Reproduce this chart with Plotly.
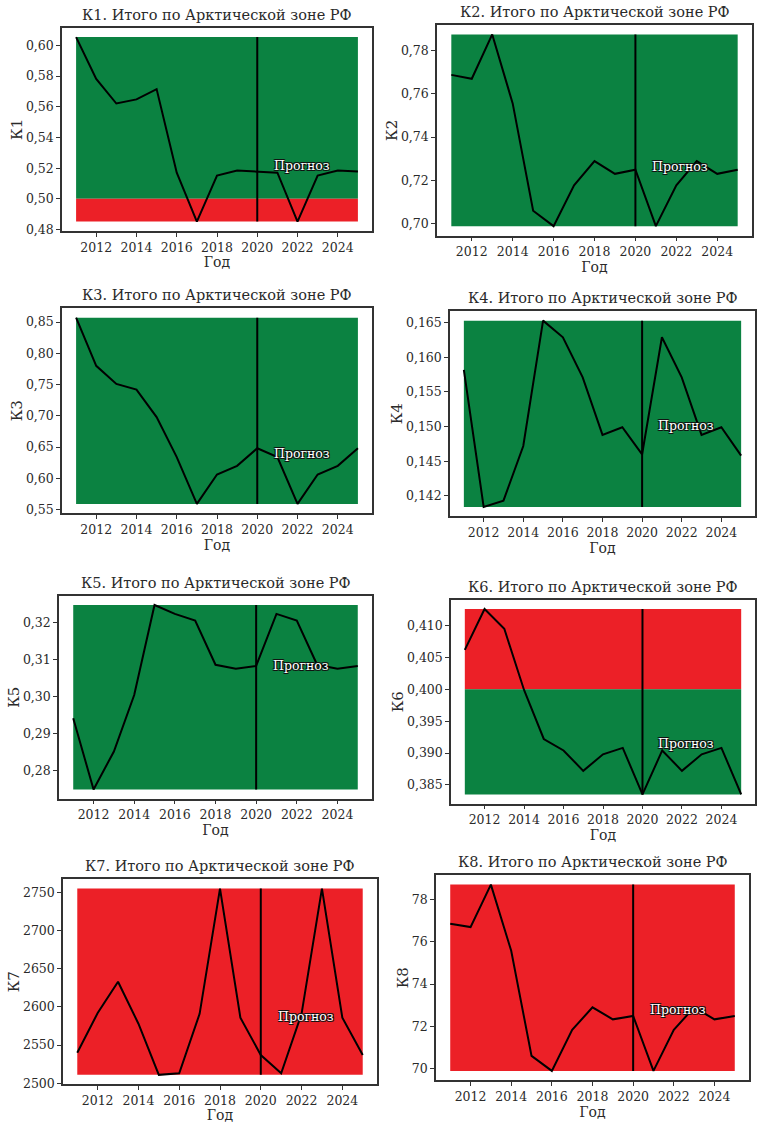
import plotly.graph_objects as go

years = list(range(2011, 2026))
forecast_start = 2020

k1 = [0.6054, 0.5781, 0.5621, 0.5648, 0.5715, 0.5170, 0.4852, 0.5152, 0.5185, 0.5178,
      0.5170, 0.4852, 0.5152, 0.5185, 0.5178]
k2 = [0.7688, 0.7670, 0.7875, 0.7556, 0.7059, 0.6988, 0.7177, 0.7289, 0.7230, 0.7249,
      0.6988, 0.7177, 0.7289, 0.7230, 0.7249]
k3 = [0.857, 0.780, 0.751, 0.742, 0.698, 0.634, 0.559, 0.606, 0.620, 0.648,
      0.634, 0.559, 0.606, 0.620, 0.648]
k4 = [0.1582, 0.1384, 0.1393, 0.1472, 0.1653, 0.1629, 0.1571, 0.1488, 0.1499, 0.1460,
      0.1629, 0.1571, 0.1488, 0.1499, 0.1458]
k5 = [0.2941, 0.2748, 0.2851, 0.3004, 0.3248, 0.3224, 0.3206, 0.3086, 0.3075, 0.3083,
      0.3224, 0.3206, 0.3086, 0.3075, 0.3083]
k6 = [0.4062, 0.4126, 0.4095, 0.3999, 0.3922, 0.3904, 0.3872, 0.3898, 0.3908, 0.3835,
      0.3904, 0.3872, 0.3898, 0.3908, 0.3835]
k7 = [2540, 2592, 2633, 2578, 2511, 2513, 2591, 2755, 2586, 2537,
      2513, 2591, 2755, 2586, 2537]
k8 = [76.86, 76.70, 78.71, 75.58, 70.60, 69.89, 71.83, 72.90, 72.33, 72.49,
      69.89, 71.83, 72.90, 72.33, 72.49]

names = ["К1", "К2", "К3", "К4", "К5", "К6", "К7", "К8"]
series = [k1, k2, k3, k4, k5, k6, k7, k8]
title_suffix = ". Итого по Арктической зоне РФ"

# zone thresholds: (threshold, colour above, colour below)
GREEN = "#0b8241"
RED = "#ec2027"
zones = [
    (0.50, GREEN, RED),
    (None, GREEN, GREEN),
    (None, GREEN, GREEN),
    (None, GREEN, GREEN),
    (None, GREEN, GREEN),
    (0.40, RED, GREEN),
    (None, RED, RED),
    (None, RED, RED),
]

ytick_vals = [
    [0.48, 0.50, 0.52, 0.54, 0.56, 0.58, 0.60],
    [0.70, 0.72, 0.74, 0.76, 0.78],
    [0.55, 0.60, 0.65, 0.70, 0.75, 0.80, 0.85],
    [0.140, 0.145, 0.150, 0.155, 0.160, 0.165],
    [0.28, 0.29, 0.30, 0.31, 0.32],
    [0.385, 0.390, 0.395, 0.400, 0.405, 0.410],
    [2500, 2550, 2600, 2650, 2700, 2750],
    [70, 72, 74, 76, 78],
]
ytick_text = [
    ["0,48", "0,50", "0,52", "0,54", "0,56", "0,58", "0,60"],
    ["0,70", "0,72", "0,74", "0,76", "0,78"],
    ["0,55", "0,60", "0,65", "0,70", "0,75", "0,80", "0,85"],
    ["0,142", "0,145", "0,150", "0,155", "0,160", "0,165"],
    ["0,28", "0,29", "0,30", "0,31", "0,32"],
    ["0,385", "0,390", "0,395", "0,400", "0,405", "0,410"],
    ["2500", "2550", "2600", "2650", "2700", "2750"],
    ["70", "72", "74", "76", "78"],
]
xtick_vals = [2012, 2014, 2016, 2018, 2020, 2022, 2024]
forecast_label = "Прогноз"
forecast_label_y = [0.522, 0.7264, 0.640, 0.1502, 0.3083, 0.3915, 2588, 72.78]
forecast_label_x = 2022.2

# panel frames in pixels: left, right, top, bottom
W, H = 758, 1123
frames = [
    (62, 372, 28, 232),
    (437, 752, 25, 237),
    (62, 372, 310, 516),
    (450, 755, 313, 519),
    (59, 372, 599, 803),
    (451, 755, 603, 808),
    (63, 377, 884, 1090),
    (436, 749, 880, 1086),
]

FONT = "DejaVu Serif"
AXC = "#333333"
TXC = "#2a2a2a"

fig = go.Figure()
shapes = []
annotations = []
layout_axes = {}

for i, (name, ys) in enumerate(zip(names, series)):
    n = i + 1
    xa = "x" if n == 1 else f"x{n}"
    ya = "y" if n == 1 else f"y{n}"
    L, R, T, B = frames[i]
    ymin, ymax = min(ys), max(ys)
    r = ymax - ymin
    x0, x1 = years[0], years[-1]
    xr = x1 - x0

    thr, c_above, c_below = zones[i]
    if thr is None:
        shapes.append(dict(type="rect", xref=xa, yref=ya, x0=x0, x1=x1, y0=ymin, y1=ymax,
                           fillcolor=c_above, line=dict(width=0), layer="below"))
    else:
        shapes.append(dict(type="rect", xref=xa, yref=ya, x0=x0, x1=x1, y0=thr, y1=ymax,
                           fillcolor=c_above, line=dict(width=0), layer="below"))
        shapes.append(dict(type="rect", xref=xa, yref=ya, x0=x0, x1=x1, y0=ymin, y1=thr,
                           fillcolor=c_below, line=dict(width=0), layer="below"))
    shapes.append(dict(type="line", xref=xa, yref=ya, x0=forecast_start, x1=forecast_start,
                       y0=ymin, y1=ymax, line=dict(color="black", width=2)))

    fig.add_trace(go.Scatter(x=years, y=ys, mode="lines", xaxis=xa, yaxis=ya,
                             line=dict(color="black", width=2), showlegend=False,
                             hoverinfo="skip"))

    annotations.append(dict(xref=xa, yref=ya, x=forecast_label_x, y=forecast_label_y[i],
                            text=forecast_label, showarrow=False,
                            font=dict(family=FONT, size=12.5, color="white",
                                      shadow="-1px -1px 0 #111, 1px -1px 0 #111, -1px 1px 0 #111, 1px 1px 0 #111"),
                            xanchor="center", yanchor="middle"))
    annotations.append(dict(xref="paper", yref="paper", x=(L + R) / 2 / W, y=1 - (T - 3) / H,
                            text=name + title_suffix, showarrow=False,
                            font=dict(family=FONT, size=14.5, color=TXC),
                            xanchor="center", yanchor="bottom"))

    key_x = "xaxis" if n == 1 else f"xaxis{n}"
    key_y = "yaxis" if n == 1 else f"yaxis{n}"
    layout_axes[key_x] = dict(
        domain=[L / W, R / W], anchor=ya, range=[x0 - 0.05 * xr, x1 + 0.05 * xr],
        tickvals=xtick_vals, ticktext=[str(v) for v in xtick_vals],
        showgrid=False, zeroline=False, showline=True, mirror=True,
        linecolor=AXC, linewidth=1.5, ticks="outside", ticklen=4, tickcolor=AXC,
        tickfont=dict(family=FONT, size=12.5, color=TXC),
        title=dict(text="Год", font=dict(family=FONT, size=14, color=TXC), standoff=0),
    )
    layout_axes[key_y] = dict(
        domain=[1 - B / H, 1 - T / H], anchor=xa, range=[ymin - 0.05 * r, ymax + 0.05 * r],
        tickvals=ytick_vals[i], ticktext=ytick_text[i],
        showgrid=False, zeroline=False, showline=True, mirror=True,
        linecolor=AXC, linewidth=1.5, ticks="outside", ticklen=4, tickcolor=AXC,
        tickfont=dict(family=FONT, size=12.5, color=TXC),
        title=dict(text=name, font=dict(family=FONT, size=15, color=TXC), standoff=0),
    )

fig.update_layout(
    width=W, height=H, margin=dict(l=0, r=0, t=0, b=0),
    paper_bgcolor="white", plot_bgcolor="white",
    shapes=shapes, annotations=annotations, showlegend=False,
    **layout_axes,
)

fig.write_html("out.html")
